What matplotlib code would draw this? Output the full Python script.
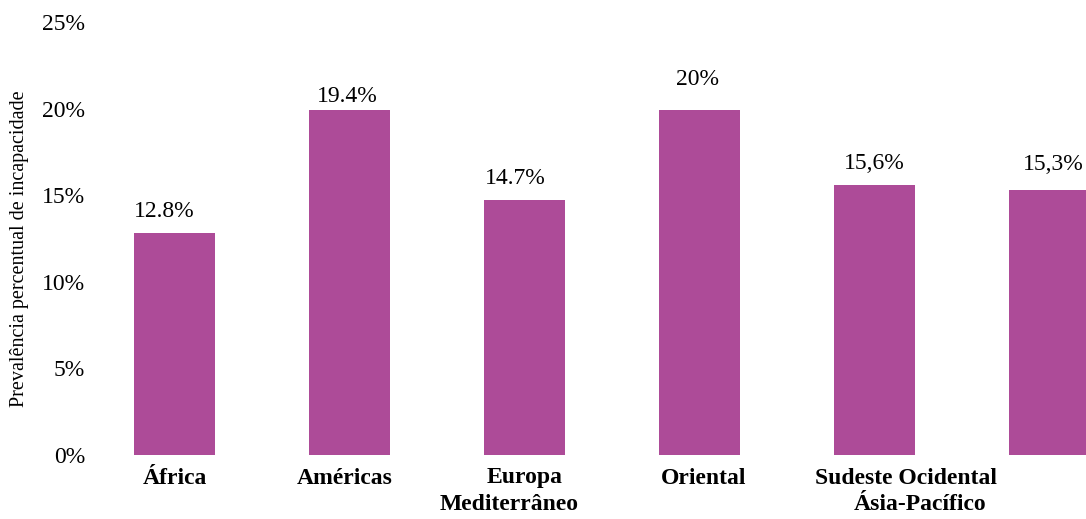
import numpy as np
import matplotlib
matplotlib.use('Agg')
import matplotlib.pyplot as plt
from matplotlib.transforms import blended_transform_factory

plt.rcParams['font.family'] = ['Liberation Serif', 'DejaVu Serif']

# data
values = [12.8, 19.9, 14.7, 19.9, 15.6, 15.3]
value_labels = ['12.8%', '19.4%', '14.7%', '20%', '15,6%', '15,3%']
yticks = [0, 5, 10, 15, 20, 25]
ytick_labels = ['0%', '5%', '10%', '15%', '20%', '25%']
category_lines = ['África', 'Américas', 'Europa', 'Mediterrâneo', 'Oriental',
                  'Sudeste Ocidental', 'Ásia-Pacífico']
ylabel = 'Prevalência percentual de incapacidade'

# layout (label placement as in the original, pixel offsets / data x)
label_dx = [-11, -3, -10, -2, -1, 3]
label_dy = [22, 14, 22, 31, 21, 26]
line_x = [0.0, 0.97, 2.0, 1.91, 3.02, 4.18, 4.26]
line_y = [-23, -23, -23, -50, -23, -23, -50]

color = '#AD4B98'

fig = plt.figure(figsize=(10.86, 5.19), dpi=100)
ax = fig.add_axes([95/1086, 1 - 455/519, (1086 - 95)/1086, (455 - 22)/519])

x = np.arange(len(values))
bars = ax.bar(x, values, width=0.463, color=color)

ax.set_xlim(-0.457, 5.206)
ax.set_ylim(0, 25)
ax.set_yticks(yticks)
ax.set_yticklabels(ytick_labels, fontsize=17)
ax.tick_params(axis='y', length=0, pad=7)
ax.set_xticks([])
for s in ax.spines.values():
    s.set_visible(False)

for b, lab, dx, dy in zip(bars, value_labels, label_dx, label_dy):
    ax.annotate(lab, (b.get_x() + b.get_width()/2, b.get_height()),
                xytext=(dx*0.72, dy*0.72), textcoords='offset points',
                ha='center', va='center', fontsize=17)

trans = blended_transform_factory(ax.transData, ax.transAxes)
for txt, lx, ly in zip(category_lines, line_x, line_y):
    ax.annotate(txt, (lx, 0), xycoords=trans, xytext=(0, ly*0.72),
                textcoords='offset points', ha='center', va='center',
                fontsize=17, fontweight='bold')

fig.text(20/1086, 1 - 249/519, ylabel, rotation=90, ha='center', va='center',
         fontsize=14.5)

fig.savefig('out.png', dpi=100)
